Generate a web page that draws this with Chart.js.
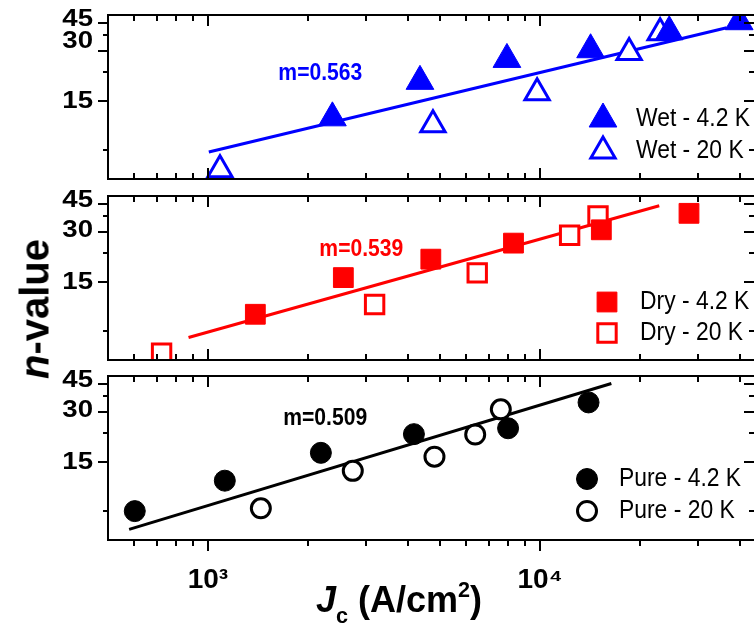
<!DOCTYPE html>
<html>
<head>
<meta charset="utf-8">
<script src="https://cdn.jsdelivr.net/npm/chart.js@4.4.1/dist/chart.umd.min.js"></script>
<style>
  html, body { margin: 0; padding: 0; background: #fff; overflow: hidden; }
  #wrap { position: relative; width: 754px; height: 637px; overflow: hidden; }
  #wrap canvas { position: absolute; left: 0; }
  #ytitle {
    position: absolute; left: 35px; top: 309px;
    transform: translate(-50%, -50%) rotate(-90deg);
    font: bold 40px "Liberation Sans", Arial, sans-serif; white-space: nowrap;
  }
  #xtitle {
    position: absolute; left: 399px; top: 603px;
    transform: translate(-50%, -50%);
    font: bold 36px "Liberation Sans", Arial, sans-serif; white-space: nowrap;
  }
  #xtitle sub { font-size: 0.6em; vertical-align: -0.5em; }
  #xtitle sup { font-size: 0.6em; vertical-align: 0.7em; }
</style>
</head>
<body>
<div id="wrap">
  <canvas id="c1" width="754" height="190" style="top:0px"></canvas>
  <canvas id="c2" width="754" height="186" style="top:186px"></canvas>
  <canvas id="c3" width="754" height="271" style="top:366px"></canvas>
  <div id="ytitle"><i>n</i>-value</div>
  <div id="xtitle"><i>J</i><sub>c</sub> (A/cm<sup>2</sup>)</div>
</div>
<script>
// axes (the right edge of the plot sits just past the window edge)
const xMin = 500, xMax = 44100;
const yMin = 5, yMax = 50;
const xMajor = [1000, 10000];
const xMinor = [600, 700, 800, 900, 2000, 3000, 4000, 5000, 6000, 7000, 8000, 9000, 20000, 30000, 40000];
const xTickLabels = ['10³', '10⁴'];
const yMajor = [15, 30, 45];
const yMinor = [7.5, 22.5, 37.5];
const yTickLabels = ['15', '30', '45'];

// Wet
const wet42Jc = [2370, 4350, 7950, 14200, 24500, 39800];
const wet42N  = [11.8, 19.7, 26.8, 30.7, 39.5, 45.5];
const wet20Jc = [1087, 4760, 9800, 18550, 23000];
const wet20N  = [5.7, 10.7, 16.8, 29.5, 39.0];
const wetFitJc = [1006, 36500];
const wetFitN  = [7.3, 41.8];

// Dry
const dry42Jc = [1389, 2557, 4690, 8320, 15300, 28100];
const dry42N  = [9.5, 15.9, 20.6, 25.8, 31.1, 39.2];
const dry20Jc = [725, 3176, 6470, 12280, 14950];
const dry20N  = [5.5, 10.9, 17.0, 28.8, 37.8];
const dryFitJc = [874, 22860];
const dryFitN  = [6.86, 43.6];

// Pure
const pure42Jc = [602, 1124, 2188, 4171, 8014, 14000];
const pure42N  = [7.5, 11.5, 17.0, 22.1, 24.0, 34.5];
const pure20Jc = [1443, 2730, 4810, 6380, 7620];
const pure20N  = [7.8, 13.2, 16.1, 22.0, 31.3];
const pureFitJc = [579, 16400];
const pureFitN  = [5.8, 45];

const seriesNames = ['Wet - 4.2 K', 'Wet - 20 K', 'Dry - 4.2 K', 'Dry - 20 K', 'Pure - 4.2 K', 'Pure - 20 K'];
const slopes = ['m=0.563', 'm=0.539', 'm=0.509'];

const FONT = '"Liberation Sans", Arial, sans-serif';
Chart.defaults.font.family = FONT;

const pts = (xs, ys) => xs.map((v, i) => ({ x: v, y: ys[i] }));

// marker look per panel
const marks = {
  triangle: { filled: { radius: 16, borderWidth: 1 }, open: { radius: 14, borderWidth: 3 } },
  rect:     { filled: { radius: 14, borderWidth: 1 }, open: { radius: 13, borderWidth: 3 } },
  circle:   { filled: { radius: 10.5, borderWidth: 1 }, open: { radius: 9.5, borderWidth: 3 } }
};

// labelShift: small vertical nudges of the 15/30/45 labels, as in the original figure
const panels = [
  { id: 'c1', color: '#0000ff', style: 'triangle', pad: { top: 15, bottom: 11 },
    filled: pts(wet42Jc, wet42N), open: pts(wet20Jc, wet20N), fit: pts(wetFitJc, wetFitN),
    names: [seriesNames[0], seriesNames[1]], slope: slopes[0], slopeAt: { x: 2180, y: 22 },
    legend: { mx: 603, tx: 636, rows: [119, 151] }, labelShift: [1, -10, -3], last: false },
  { id: 'c2', color: '#ff0000', style: 'rect', pad: { top: 10, bottom: 12 },
    filled: pts(dry42Jc, dry42N), open: pts(dry20Jc, dry20N), fit: pts(dryFitJc, dryFitN),
    names: [seriesNames[2], seriesNames[3]], slope: slopes[1], slopeAt: { x: 2897, y: 23.7 },
    legend: { mx: 607, tx: 640, rows: [116, 147] }, labelShift: [1, -2, -3], last: false },
  { id: 'c3', color: '#000000', style: 'circle', pad: { top: 10, bottom: 0 },
    filled: pts(pure42Jc, pure42N), open: pts(pure20Jc, pure20N), fit: pts(pureFitJc, pureFitN),
    names: [seriesNames[4], seriesNames[5]], slope: slopes[2], slopeAt: { x: 2255, y: 27.5 },
    legend: { mx: 587, tx: 619, rows: [113, 145] }, labelShift: [1, -2, -3], last: true }
];

function scaledText(ctx, str, x, y, font, color, align, sx) {
  ctx.save();
  ctx.font = font;
  ctx.fillStyle = color;
  ctx.textBaseline = 'middle';
  ctx.textAlign = align;
  ctx.translate(x, y);
  ctx.scale(sx, 1);
  ctx.fillText(str, 0, 0);
  ctx.restore();
}

function framePlugin(p) {
  return {
    id: 'frame',
    afterDraw(chart) {
      const { ctx, chartArea: a, scales: { x, y } } = chart;
      const right = a.right + 2;   // right axis just outside the window
      ctx.save();
      ctx.strokeStyle = '#000';
      ctx.lineWidth = 2;
      ctx.strokeRect(a.left, a.top, right - a.left, a.bottom - a.top);

      ctx.beginPath();
      const xt = (v, len) => {
        const px = Math.round(x.getPixelForValue(v));
        ctx.moveTo(px, a.top); ctx.lineTo(px, a.top + len);
        ctx.moveTo(px, a.bottom);
        ctx.lineTo(px, p.last ? a.bottom + len : a.bottom - len);
      };
      xMajor.forEach(v => xt(v, 11));
      xMinor.forEach(v => xt(v, 6));
      const yt = (v, len) => {
        const py = Math.round(y.getPixelForValue(v));
        ctx.moveTo(a.left - len, py); ctx.lineTo(a.left, py);
        ctx.moveTo(right, py); ctx.lineTo(right - len - 2, py);
      };
      yMajor.forEach(v => yt(v, 10));
      yMinor.forEach(v => yt(v, 5));
      ctx.stroke();

      // y tick labels
      yMajor.forEach((v, i) => {
        scaledText(ctx, yTickLabels[i], a.left - 15, y.getPixelForValue(v) + p.labelShift[i],
          'bold 24px ' + FONT, '#000', 'right', 1.15);
      });

      // slope label
      scaledText(ctx, p.slope, x.getPixelForValue(p.slopeAt.x), y.getPixelForValue(p.slopeAt.y),
        'bold 24px ' + FONT, p.color, 'center', 0.88);

      // legend
      const m = marks[p.style];
      [m.filled, m.open].forEach((o, i) => {
        const ly = p.legend.rows[i];
        ctx.fillStyle = i === 0 ? p.color : '#fff';
        ctx.strokeStyle = p.color;
        ctx.lineWidth = o.borderWidth;
        Chart.helpers.drawPoint(ctx, { pointStyle: p.style, radius: o.radius, borderWidth: o.borderWidth, rotation: 0 },
          p.legend.mx, ly);
        scaledText(ctx, p.names[i], p.legend.tx, ly, '26px ' + FONT, '#000', 'left', 0.88);
      });
      ctx.restore();
    }
  };
}

panels.forEach(p => {
  const m = marks[p.style];
  new Chart(document.getElementById(p.id), {
    type: 'scatter',
    data: {
      datasets: [
        { data: p.filled, pointStyle: p.style, pointRadius: m.filled.radius, pointBorderWidth: m.filled.borderWidth,
          backgroundColor: p.color, borderColor: p.color, clip: 0 },
        { data: p.open, pointStyle: p.style, pointRadius: m.open.radius, pointBorderWidth: m.open.borderWidth,
          backgroundColor: '#fff', borderColor: p.color, clip: 0 },
        { data: p.fit, showLine: true, pointRadius: 0, borderWidth: 3, borderColor: p.color, clip: 0 }
      ]
    },
    options: {
      responsive: false,
      animation: false,
      layout: { autoPadding: false, padding: { left: 0, right: 0, top: p.pad.top, bottom: p.pad.bottom } },
      plugins: { legend: { display: false }, tooltip: { enabled: false } },
      scales: {
        x: {
          type: 'logarithmic', min: xMin, max: xMax,
          display: p.last,
          grid: { display: false, drawTicks: false },
          border: { display: false },
          afterBuildTicks: s => { s.ticks = xMajor.map(v => ({ value: v })); },
          afterFit: s => { s.height = p.last ? 97 : 0; s.paddingLeft = 0; s.paddingRight = 0; },
          ticks: {
            color: '#000', padding: 23, maxRotation: 0, autoSkip: false,
            font: { size: 28, weight: 'bold' },
            callback: v => { const i = xMajor.indexOf(v); return i >= 0 ? xTickLabels[i] : ''; }
          }
        },
        y: {
          type: 'logarithmic', min: yMin, max: yMax,
          grid: { display: false, drawTicks: false },
          border: { display: false },
          afterBuildTicks: s => { s.ticks = yMajor.map(v => ({ value: v })); },
          afterFit: s => { s.width = 108; },
          ticks: { display: false }
        }
      }
    },
    plugins: [framePlugin(p)]
  });
});
</script>
</body>
</html>
